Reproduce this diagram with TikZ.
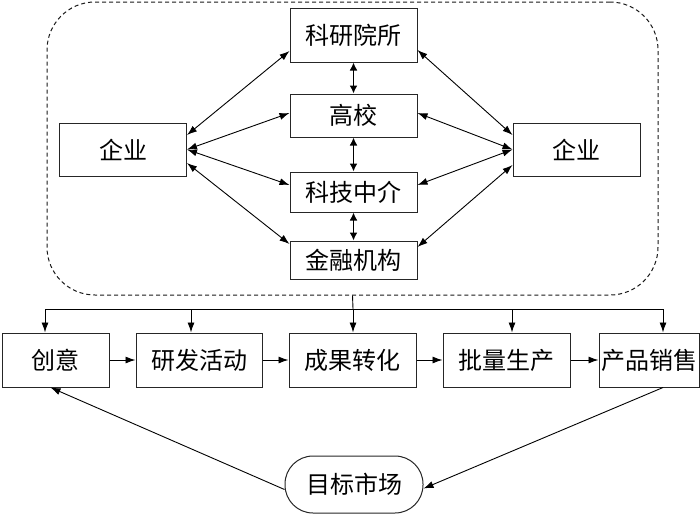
\documentclass[tikz,border=0pt]{standalone}
\usepackage{fontspec}
\newfontfamily\cjk{Noto Sans CJK SC}
\usetikzlibrary{arrows.meta}
\begin{document}
\begin{tikzpicture}[x=1pt,y=-1pt,
  box/.style={draw=black!85,line width=1pt,rectangle,inner sep=0pt,font=\cjk\fontsize{24}{26}\selectfont,text=black},
  arr/.style={line width=0.9pt,-{Latex[length=10pt,width=7pt]}},
  darr/.style={line width=0.9pt,{Latex[length=10pt,width=7pt]}-{Latex[length=10pt,width=7pt]}},
  vdarr/.style={line width=1.6pt,{Latex[length=8pt,width=8pt]}-{Latex[length=8pt,width=8pt]}}]
\useasboundingbox (0,0) rectangle (700,514);
% group
\node[draw=black!90,line width=1pt,rounded corners=48pt,minimum width=611pt,minimum height=293pt,inner sep=0pt,dash pattern=on 4pt off 3pt] (grp) at (352.5,148.5) {};
% inner nodes
\node[box,minimum width=127pt,minimum height=54pt] (kyys) at (353.5,35) {科研院所};
\node[box,minimum width=127pt,minimum height=43pt] (gx) at (353.5,115.5) {高校};
\node[box,minimum width=127pt,minimum height=40pt] (kj) at (353.5,192) {科技中介};
\node[box,minimum width=127pt,minimum height=38pt] (jr) at (353.5,260) {金融机构};
\node[box,minimum width=127pt,minimum height=53pt] (qyL) at (123,149.5) {企业};
\node[box,minimum width=127pt,minimum height=53pt] (qyR) at (576.5,149.5) {企业};
% left arrows
\draw[darr] ([yshift=14.5pt]qyL.east) -- ([yshift=-16pt]kyys.west);
\draw[darr] (qyL.east) -- ([yshift=2.5pt]gx.west);
\draw[darr] (qyL.east) -- ([yshift=7pt]kj.west);
\draw[darr] ([yshift=-13.5pt]qyL.east) -- ([yshift=16pt]jr.west);
% right arrows
\draw[darr] ([yshift=-15pt]kyys.east) -- ([yshift=14.5pt]qyR.west);
\draw[darr] ([yshift=2.5pt]gx.east) -- (qyR.west);
\draw[darr] ([yshift=7pt]kj.east) -- (qyR.west);
\draw[darr] ([yshift=13pt]jr.east) -- ([yshift=-15.5pt]qyR.west);
% vertical
\draw[vdarr] (kyys.south) -- (gx.north);
\draw[vdarr] (gx.south) -- (kj.north);
\draw[vdarr] (kj.south) -- (jr.north);
% bottom row
\node[box,minimum width=107pt,minimum height=54pt] (cy) at (55.5,360) {创意};
\node[box,minimum width=126pt,minimum height=54pt] (yf) at (199,360) {研发活动};
\node[box,minimum width=127pt,minimum height=54pt] (cg) at (352.5,360) {成果转化};
\node[box,minimum width=127pt,minimum height=54pt] (pl) at (506.5,360) {批量生产};
\node[box,minimum width=100pt,minimum height=54pt] (cp) at (649,360) {产品销售};
\node[box,minimum width=138pt,minimum height=57pt,rounded corners=28pt] (mb) at (354,484.5) {目标市场};
% bus
\coordinate (b1) at (45,309);
\coordinate (b2) at (191,309);
\coordinate (b3) at (353,309);
\coordinate (b4) at (512,309);
\coordinate (b5) at (663,309);
\draw[line width=0.9pt] (grp.south) -- (b3);
\draw[line width=0.9pt] (b1) -- (b5);
\draw[arr] (b1) -- (b1 |- cy.north);
\draw[arr] (b2) -- (b2 |- yf.north);
\draw[arr] (b3) -- (b3 |- cg.north);
\draw[arr] (b4) -- (b4 |- pl.north);
\draw[arr] (b5) -- (b5 |- cp.north);
% chain
\draw[arr] (cy.east) -- (yf.west);
\draw[arr] (yf.east) -- (cg.west);
\draw[arr] (cg.east) -- (pl.west);
\draw[arr] (pl.east) -- (cp.west);
% market loop
\draw[arr] ([xshift=14pt]cp.south) -- ([yshift=-4pt]mb.east);
\draw[arr] ([yshift=-5pt]mb.west) -- ([xshift=-5pt]cy.south);
\end{tikzpicture}
\end{document}
